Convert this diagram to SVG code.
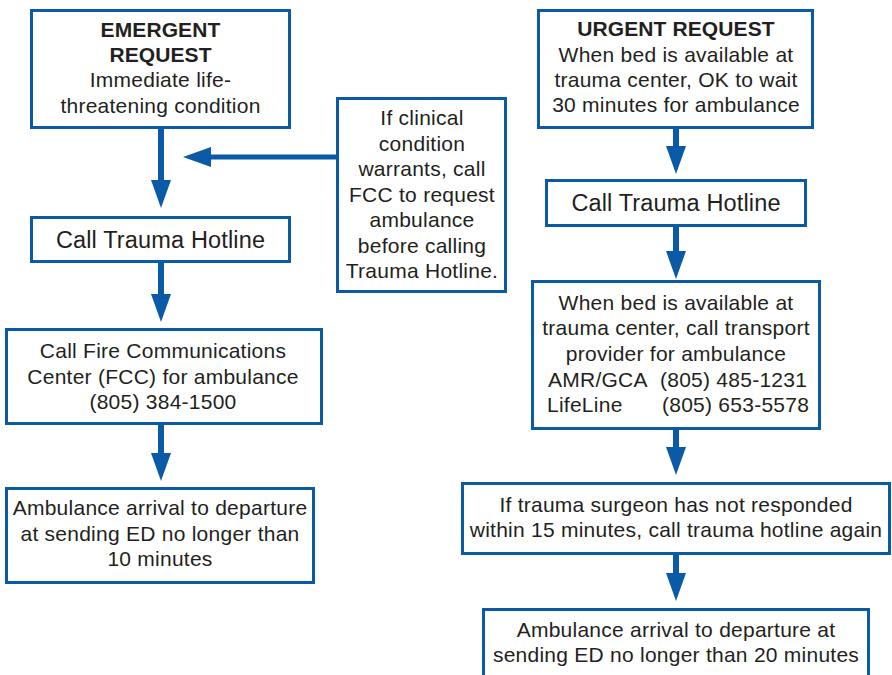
<svg xmlns="http://www.w3.org/2000/svg" width="892" height="675" viewBox="0 0 892 675">
<style>
.box{fill:#fff;stroke:#0a5aa8;stroke-width:3}
.t{font-family:"Liberation Sans",Arial,sans-serif;font-size:21px;letter-spacing:0.25px;fill:#231f20;text-anchor:middle}
.b{font-weight:bold;letter-spacing:0.1px}
.big{font-size:23.5px;letter-spacing:0.15px}
.l{text-anchor:start}
.c{stroke:#0a5aa8;stroke-width:6;fill:none}
.ch{stroke:#0a5aa8;stroke-width:5;fill:none}
</style>
<defs>
<marker id="ah" markerUnits="userSpaceOnUse" markerWidth="28" markerHeight="20" refX="0" refY="10" orient="auto" overflow="visible">
<path d="M0,0 L28,10 L0,20 Z" fill="#0a5aa8"/>
</marker>
</defs>
<rect width="892" height="675" fill="#fff"/>
<g id="connectors">
<line class="c" x1="161" y1="129" x2="161" y2="180" marker-end="url(#ah)"/>
<line class="c" x1="161" y1="263" x2="161" y2="294" marker-end="url(#ah)"/>
<line class="c" x1="161" y1="425" x2="161" y2="453" marker-end="url(#ah)"/>
<line class="ch" x1="337" y1="157" x2="211" y2="157" marker-end="url(#ah)"/>
<line class="c" x1="676" y1="129" x2="676" y2="146" marker-end="url(#ah)"/>
<line class="c" x1="676" y1="227" x2="676" y2="251" marker-end="url(#ah)"/>
<line class="c" x1="676" y1="430" x2="676" y2="447" marker-end="url(#ah)"/>
<line class="c" x1="676" y1="555" x2="676" y2="573" marker-end="url(#ah)"/>
</g>
<g id="emergent">
<rect class="box" x="31.5" y="10.5" width="258" height="117"/>
<text class="t b" x="160.5" y="37">EMERGENT</text>
<text class="t b" x="160.5" y="62">REQUEST</text>
<text class="t" x="160.5" y="87">Immediate life-</text>
<text class="t" x="160.5" y="113">threatening condition</text>
</g>
<g id="hotline-left">
<rect class="box" x="31.5" y="217.5" width="258" height="44"/>
<text class="t big" x="160.5" y="248">Call Trauma Hotline</text>
</g>
<g id="clinical">
<rect class="box" x="337.5" y="98.5" width="168" height="193"/>
<text class="t" x="422" y="125">If clinical</text>
<text class="t" x="422" y="151">condition</text>
<text class="t" x="422" y="176">warrants, call</text>
<text class="t" x="422" y="202">FCC to request</text>
<text class="t" x="422" y="227">ambulance</text>
<text class="t" x="422" y="253">before calling</text>
<text class="t" x="422" y="278">Trauma Hotline.</text>
</g>
<g id="fcc">
<rect class="box" x="6.5" y="329.5" width="315" height="94"/>
<text class="t" x="163" y="358">Call Fire Communications</text>
<text class="t" x="163" y="384">Center (FCC) for ambulance</text>
<text class="t" x="163" y="409">(805) 384-1500</text>
</g>
<g id="depart-left">
<rect class="box" x="6.5" y="488.5" width="307" height="94"/>
<text class="t" x="160" y="515">Ambulance arrival to departure</text>
<text class="t" x="160" y="541">at sending ED no longer than</text>
<text class="t" x="160" y="566">10 minutes</text>
</g>
<g id="urgent">
<rect class="box" x="538.5" y="10.5" width="274" height="117"/>
<text class="t b" x="676" y="36">URGENT REQUEST</text>
<text class="t" x="676" y="62">When bed is available at</text>
<text class="t" x="676" y="87">trauma center, OK to wait</text>
<text class="t" x="676" y="112">30 minutes for ambulance</text>
</g>
<g id="hotline-right">
<rect class="box" x="546.5" y="180.5" width="259" height="45"/>
<text class="t big" x="676" y="211">Call Trauma Hotline</text>
</g>
<g id="transport">
<rect class="box" x="532.5" y="281.5" width="287" height="147"/>
<text class="t" x="676" y="310">When bed is available at</text>
<text class="t" x="676" y="335">trauma center, call transport</text>
<text class="t" x="676" y="361">provider for ambulance</text>
<text class="t l" x="548" y="387">AMR/GCA</text>
<text class="t l" x="660" y="387">(805) 485-1231</text>
<text class="t l" x="547" y="412">LifeLine</text>
<text class="t l" x="662" y="412">(805) 653-5578</text>
</g>
<g id="surgeon">
<rect class="box" x="462.5" y="483.5" width="427" height="70"/>
<text class="t" x="676" y="512">If trauma surgeon has not responded</text>
<text class="t" x="676" y="537">within 15 minutes, call trauma hotline again</text>
</g>
<g id="depart-right">
<rect class="box" x="483.5" y="609.5" width="385" height="80"/>
<text class="t" x="676" y="637">Ambulance arrival to departure at</text>
<text class="t" x="676" y="662">sending ED no longer than 20 minutes</text>
</g>
</svg>
